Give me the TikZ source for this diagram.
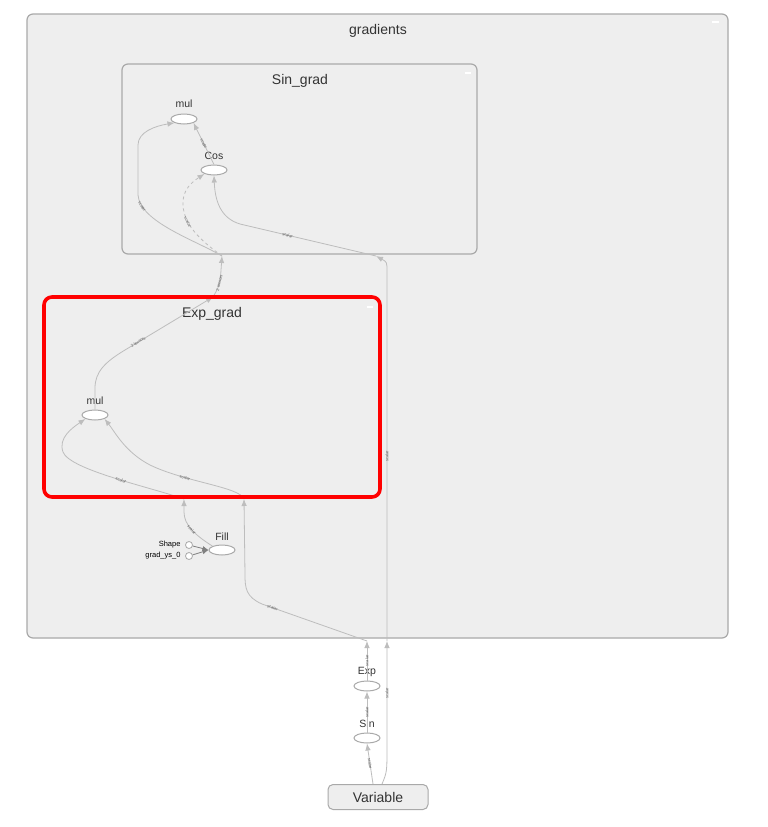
\documentclass[tikz,border=0pt]{standalone}
\usepackage{fontspec}
\setmainfont{Liberation Sans}
\usetikzlibrary{arrows.meta,shapes.geometric}
\definecolor{boxfill}{HTML}{EEEEEE}
\definecolor{boxline}{HTML}{A9A9A9}
\definecolor{edgeline}{HTML}{BDBDBD}
\definecolor{labeltext}{HTML}{333333}

\begin{document}
\begin{tikzpicture}[x=1pt,y=-1pt,
    group/.style={draw=boxline,fill=boxfill,line width=1.2pt,rounded corners=6pt},
    hot/.style={draw=red,line width=3.6pt,rounded corners=8pt},
    op/.style={ellipse,draw=boxline,fill=white,line width=1pt,minimum width=26pt,minimum height=10pt,inner sep=0pt},
    const/.style={circle,draw=boxline,fill=white,line width=0.8pt,minimum size=7pt,inner sep=0pt},
    title/.style={font=\fontsize{14}{16}\selectfont,text=labeltext},
    oplabel/.style={font=\fontsize{10.5}{12}\selectfont,text=labeltext},
    constlabel/.style={font=\fontsize{7.5}{8}\selectfont,anchor=east,text=black},
    edge/.style={draw=edgeline,line width=0.8pt},
    elabel/.style={font=\fontsize{4}{4.5}\selectfont,text=gray!70!black,inner sep=0.5pt},
    minus/.style={draw=white,line width=1.6pt}]
    \tikzset{>={Latex[length=7pt,width=5.5pt]}}
    \useasboundingbox (0,0) rectangle (768,827);
    \fill[white] (0,0) rectangle (768,827);

    % groups
    \draw[group] (27,14) rectangle (728,638);
    \node[title] (gradients) at (378,31) {gradients};
    \draw[minus] (712,22) -- (719,22);
    \draw[group] (122,64) rectangle (477,254);
    \node[title] (singrad) at (300,81) {Sin\_grad};
    \draw[minus] (465,73) -- (471,73);
    \fill[boxfill] (44,297) rectangle (380,497);
    \node[title] (expgrad) at (212,314) {Exp\_grad};
    \draw[minus] (367,307) -- (373,307);

    % ops
    \node[op] (mul1) at (184,119) {};
    \node[oplabel] at (184,104) {mul};
    \node[op] (cos) at (214,170) {};
    \node[oplabel] at (214,156) {Cos};
    \node[op] (mul2) at (95,415) {};
    \node[oplabel] at (95,401) {mul};
    \node[op] (fill) at (222,550) {};
    \node[oplabel] at (222,537) {Fill};
    \node[const] (shape) at (189,545) {};
    \node[constlabel] at (184,545) {Shape};
    \node[const] (gradys) at (189,556) {};
    \node[constlabel] at (184,556) {grad\_ys\_0};
    \node[op] (exp) at (367,686) {};
    \node[oplabel] at (367,672) {Exp};
    \node[op] (sin) at (367,738) {};
    \node[oplabel] at (367,724) {Sin};
    \node[draw=boxline,fill=boxfill,line width=1pt,rounded corners=5pt,minimum width=100pt,minimum height=25pt,
        font=\fontsize{14}{16}\selectfont,text=labeltext] (var) at (378,797) {Variable};

    % ports
    \coordinate (gin1) at (367,641);
    \coordinate (gin2) at (387,641);
    \coordinate (egin1) at (184,499);
    \coordinate (egin2) at (244,499);
    \coordinate (egout) at (213,297);
    \coordinate (sgin1) at (222,256);
    \coordinate (sgin2) at (376,256);

    % edges
    \draw[edge,->] ([xshift=-5pt]var.north) -- (sin.south) node[elabel,midway,sloped] {scalar};
    \draw[edge,->] (sin.north) -- (exp.south) node[elabel,midway,sloped] {scalar};
    \draw[edge,->] (exp.north) -- (gin1) node[elabel,midway,sloped] {scalar};
    \draw[edge,->] ([xshift=4pt]var.north) .. controls (387,772) .. (387,745) -- (gin2)
        node[elabel,pos=0.5,sloped] {scalar};
    \draw[edge,->] (gin1) -- (262,604) node[elabel,pos=0.9,sloped] {scalar}
        .. controls (246,597) and (245,588) .. (245,575) -- (egin2);
    \draw[edge,->] (egin2) .. controls (240,487) and (185,482) .. (150,465)
        node[elabel,pos=0.7,sloped] {scalar}
        .. controls (125,452) and (115,432) .. (mul2.south east);
    \draw[edge,->] (egin1) .. controls (150,487) and (70,470) .. (63,452)
        node[elabel,pos=0.45,sloped] {scalar}
        .. controls (58,438) and (72,428) .. (mul2.south west);
    \draw[edge,->] (fill.north west) .. controls (195,535) and (184,525) .. (184,512)
        node[elabel,pos=0.5,sloped] {scalar} -- (egin1);
    \draw[edge,->,>={Latex[length=6pt,width=5pt]},draw=gray] (shape) -- (fill.west);
    \draw[edge,->,>={Latex[length=6pt,width=5pt]},draw=gray] (gradys) -- (fill.west);
    \draw[edge,->] (mul2.north) -- (95,388) .. controls (95,372) and (105,362) .. (125,350)
        -- (egout) node[elabel,pos=0.15,sloped] {2 tensors};
    \draw[edge,->] (egout) .. controls (220,285) .. (sgin1) node[elabel,midway,sloped] {2 tensors};
    \draw[edge,->] (sgin1) .. controls (195,240) and (140,222) .. (138,195)
        node[elabel,pos=0.85,sloped] {scalar}
        -- (138,145) .. controls (138,132) and (155,126) .. (mul1.south west);
    \draw[edge,->,dashed] (sgin1) .. controls (200,240) and (184,225) .. (183,205)
        node[elabel,pos=0.7,sloped] {scalar}
        .. controls (182,190) and (192,182) .. (cos.south west);
    \draw[edge,->] (gin2) -- (387,272) node[elabel,midway,sloped] {scalar} .. controls (387,262) .. (sgin2);
    \draw[edge,->] (sgin2) -- (240,224) node[elabel,pos=0.65,sloped] {scalar}
        .. controls (220,218) and (215,200) .. (cos.south);
    \draw[edge,->] (cos.north) -- (mul1.south east) node[elabel,midway,sloped] {scalar};

    % highlight
    \draw[hot] (44,297) rectangle (380,497);
\end{tikzpicture}
\end{document}
